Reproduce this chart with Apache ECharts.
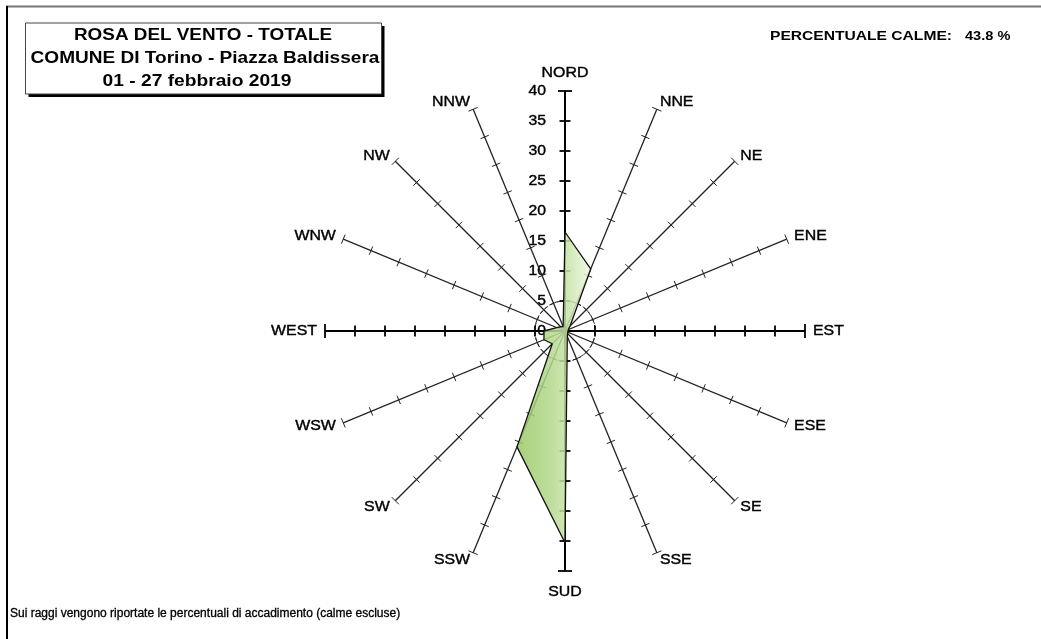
<!DOCTYPE html>
<html><head><meta charset="utf-8">
<script src="https://cdn.jsdelivr.net/npm/echarts@6/dist/echarts.min.js"></script>
<style>html,body{margin:0;padding:0;background:#fff}#c{width:1041px;height:639px}</style>
</head><body><div id="c"></div>
<script>
const directions = ['NORD','NNE','NE','ENE','EST','ESE','SE','SSE','SUD','SSW','SW','WSW','WEST','WNW','NW','NNW'];
const frequencies = [16.5, 11.2, 1.2, 0.6, 0.5, 0.5, 0.6, 1.0, 35.3, 20.9, 3.0, 3.8, 3.5, 1.5, 1.0, 0.8];
const radiusTicks = [0, 5, 10, 15, 20, 25, 30, 35, 40];
const calmPercent = 43.8;
const titleLines = ['ROSA DEL VENTO - TOTALE', 'COMUNE DI Torino - Piazza Baldissera', '01 - 27 febbraio 2019'];
const footnote = 'Sui raggi vengono riportate le percentuali di accadimento (calme escluse)';

const rMax = radiusTicks[radiusTicks.length - 1];
const step = 360 / directions.length;
const FONT = '"Liberation Sans", Arial, sans-serif';

const chart = echarts.init(document.getElementById('c'), null, {renderer: 'canvas'});

function renderRay(params, api) {
  const i = params.dataIndex;
  const ang = i * step;
  const o = api.coord([0, ang]);
  const e = api.coord([rMax, ang]);
  const main = i % 4 === 0;
  const dx = e[0] - o[0], dy = e[1] - o[1];
  const len = Math.hypot(dx, dy);
  const ux = dx / len, uy = dy / len;
  const px = -uy, py = ux;
  const col = main ? '#000' : '#222';
  const children = [{
    type: 'line', shape: {x1: o[0], y1: o[1], x2: e[0], y2: e[1]},
    style: {stroke: col, lineWidth: main ? 2 : 1.3}
  }];
  radiusTicks.forEach(t => {
    if (t === 0) return;
    const p = api.coord([t, ang]);
    const h = main ? (t === rMax ? 7 : 5.5) : (t === rMax ? 5 : 4.5);
    children.push({
      type: 'line',
      shape: {x1: p[0] - px * h, y1: p[1] - py * h, x2: p[0] + px * h, y2: p[1] + py * h},
      style: {stroke: col, lineWidth: main ? 1.8 : 1}
    });
  });
  let lx, ly, align, valign = 'middle';
  if (i === 0) { lx = e[0]; ly = e[1] - 11; align = 'center'; valign = 'bottom'; }
  else if (i === directions.length / 2) { lx = e[0]; ly = e[1] + 13; align = 'center'; valign = 'top'; }
  else {
    lx = e[0] + ux * 8; ly = e[1] + uy * 8;
    align = ux > 0 ? 'left' : 'right';
  }
  children.push({
    type: 'text', x: lx, y: ly, scaleX: 1.06,
    style: {text: directions[i], textAlign: align, textVerticalAlign: valign,
      font: '15px ' + FONT, fill: '#000', stroke: '#000', lineWidth: 0.4}
  });
  if (i === 0) {
    radiusTicks.forEach(t => {
      const p = api.coord([t, ang]);
      children.push({
        type: 'text', x: p[0] - 19, y: p[1], scaleX: 1.05,
        style: {text: String(t), textAlign: 'right', textVerticalAlign: 'middle',
          font: '15px ' + FONT, fill: '#000', stroke: '#000', lineWidth: 0.4}
      });
    });
    const c5 = api.coord([radiusTicks[1], ang]);
    children.push({
      type: 'circle', shape: {cx: o[0], cy: o[1], r: Math.hypot(c5[0] - o[0], c5[1] - o[1])},
      style: {fill: 'none', stroke: '#222', lineWidth: 1, lineDash: [4, 3]}
    });
  }
  return {type: 'group', children};
}

const rayData = directions.map((d, i) => [rMax, i * step]);
const roseData = frequencies.map((v, i) => [v, i * step]);
roseData.push([frequencies[0], 360]);

const option = {
  animation: false,
  backgroundColor: '#fff',
  polar: {center: [565, 331], radius: 240},
  angleAxis: {type: 'value', min: 0, max: 360, startAngle: 90, clockwise: true,
    axisLine: {show: false}, axisTick: {show: false}, axisLabel: {show: false}, splitLine: {show: false}},
  radiusAxis: {type: 'value', min: 0, max: rMax,
    axisLine: {show: false}, axisTick: {show: false}, axisLabel: {show: false}, splitLine: {show: false}},
  series: [
    {type: 'custom', coordinateSystem: 'polar', data: rayData, renderItem: renderRay, z: 2, silent: true},
    {type: 'line', coordinateSystem: 'polar', data: roseData, symbol: 'none', z: 3, silent: true,
      lineStyle: {color: '#111', width: 1.3},
      areaStyle: {opacity: 0.85, color: new echarts.graphic.LinearGradient(0, 0, 1, 0, [
        {offset: 0, color: '#98c862'}, {offset: 0.45, color: '#b2d88a'}, {offset: 0.7, color: '#c8e4a9'}, {offset: 1, color: '#eef7e4'}])}}
  ],
  graphic: [
    {type: 'line', shape: {x1: 6, y1: 6.5, x2: 1041, y2: 6.5}, style: {stroke: '#777', lineWidth: 2}},
    {type: 'line', shape: {x1: 7, y1: 6, x2: 7, y2: 639}, style: {stroke: '#000', lineWidth: 2}},
    {type: 'rect', shape: {x: 28.5, y: 26, width: 356, height: 71}, style: {fill: '#000'}},
    {type: 'rect', shape: {x: 25.5, y: 23, width: 356, height: 71}, style: {fill: '#fff', stroke: '#444', lineWidth: 1}},
    {type: 'text', x: 203, y: 36, scaleX: 1.18, style: {text: titleLines[0], textAlign: 'center', textVerticalAlign: 'middle', font: 'bold 16px ' + FONT, fill: '#000'}},
    {type: 'text', x: 205, y: 59, scaleX: 1.19, style: {text: titleLines[1], textAlign: 'center', textVerticalAlign: 'middle', font: 'bold 16px ' + FONT, fill: '#000'}},
    {type: 'text', x: 197, y: 82, scaleX: 1.2, style: {text: titleLines[2], textAlign: 'center', textVerticalAlign: 'middle', font: 'bold 16px ' + FONT, fill: '#000'}},
    {type: 'text', x: 770, y: 36, scaleX: 1.2, style: {text: 'PERCENTUALE CALME:', textAlign: 'left', textVerticalAlign: 'middle', font: 'bold 13px ' + FONT, fill: '#000'}},
    {type: 'text', x: 965, y: 36, scaleX: 1.12, style: {text: calmPercent.toFixed(1) + ' %', textAlign: 'left', textVerticalAlign: 'middle', font: 'bold 13px ' + FONT, fill: '#000'}},
    {type: 'text', x: 10, y: 614, style: {text: footnote, textAlign: 'left', textVerticalAlign: 'middle', font: '12px ' + FONT, fill: '#000', stroke: '#000', lineWidth: 0.3}}
  ]
};
chart.setOption(option);
</script>
</body></html>
